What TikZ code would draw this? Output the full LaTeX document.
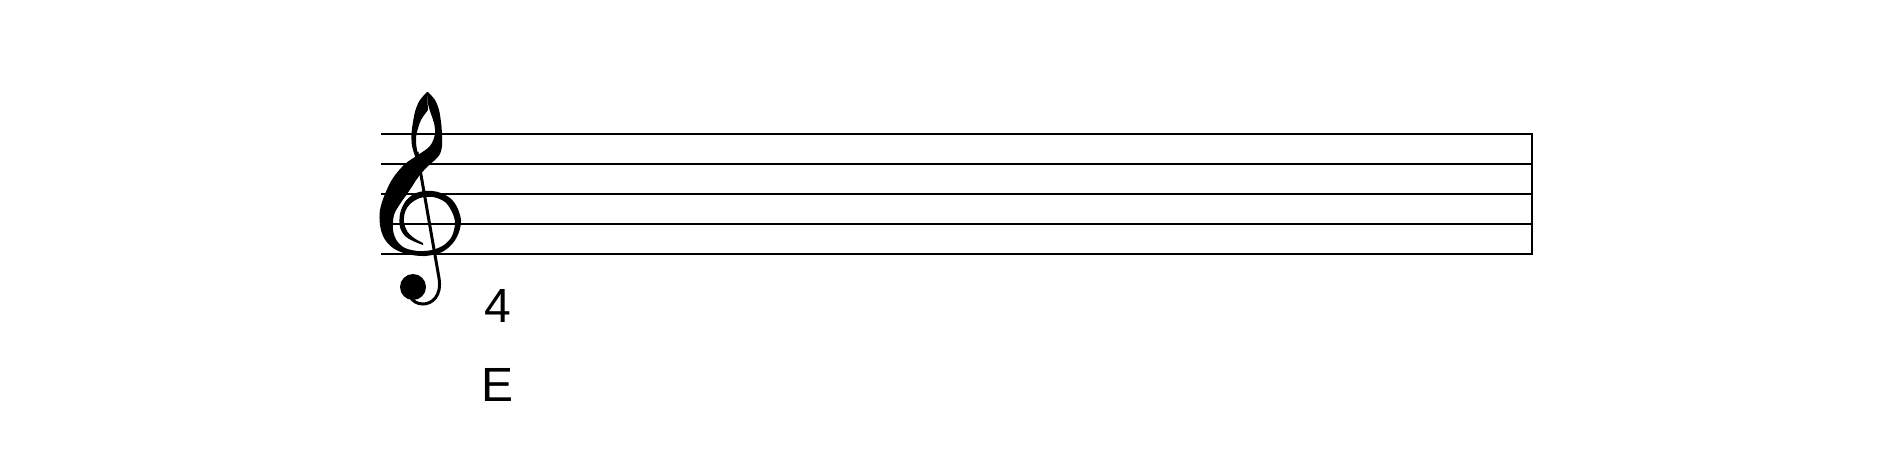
\documentclass[tikz,border=0pt]{standalone}
\usepackage{fontspec}
\setmainfont{Liberation Sans}
\begin{document}
\begin{tikzpicture}[x=1pt,y=-1pt,
  staffline/.style={line width=1.7pt,line cap=butt},
  lbl/.style={font=\fontsize{48}{56}\selectfont,inner sep=0pt,anchor=base west}]
\useasboundingbox[fill=white] (0,0) rectangle (1890,469);
% staff
\foreach \y in {133.7,163.7,193.7,223.7,253.7}
  \draw[staffline] (381,\y) -- (1532,\y);
\draw[staffline,line cap=rect] (1532,133.7) -- (1532,253.7);
% treble clef: thick S stroke
\fill plot[smooth,tension=0.55] coordinates {(427,92) (428,104) (431,114) (434,123) (435,134) (430,146) (418,155) (405,164) (393,178) (385,194) (380,210) (380,225) (384,238) (393,248) (407,254) (425,256) (442,252) (453,243) (459,232) (461,220) (457,207) (450,198) (438,192) (425,191) (414,194) (405,202) (400,214) (400,227) (405,236) (413,241) (423,245)}
  -- plot[smooth,tension=0.55] coordinates {(423,243) (414,238) (407,231) (404,222) (405,212) (410,204) (420,198) (433,197) (445,202) (452,212) (455,223) (452,236) (444,245) (432,250) (418,251) (405,248) (397,241) (393,230) (394,215) (400,204) (407,194) (413,185) (419,176) (428,166) (435,160) (440,154) (442,146) (442,134) (441,122) (439,110) (435,100) (428,92)}
  -- cycle;
% loop left side
\fill plot[smooth,tension=0.55] coordinates {(427,92) (420,100) (415.5,110) (413,122) (411.5,134) (412,146) (415,156) (418,165)}
  -- plot[smooth,tension=0.55] coordinates {(420,160) (417,150) (416,140) (417,132) (421,120) (428,110)}
  -- cycle;
% stem
\draw[line width=3pt] (417,152) -- (439,278) .. controls (442,296) and (432,304) .. (423,304) .. controls (417,304) and (413,301) .. (411,298);
% ball
\fill (413,287) circle (13);
% labels
\node[lbl] (num) at (484.5,322) {4};
\node[lbl] (key) at (481,401) {E};
\end{tikzpicture}
\end{document}
